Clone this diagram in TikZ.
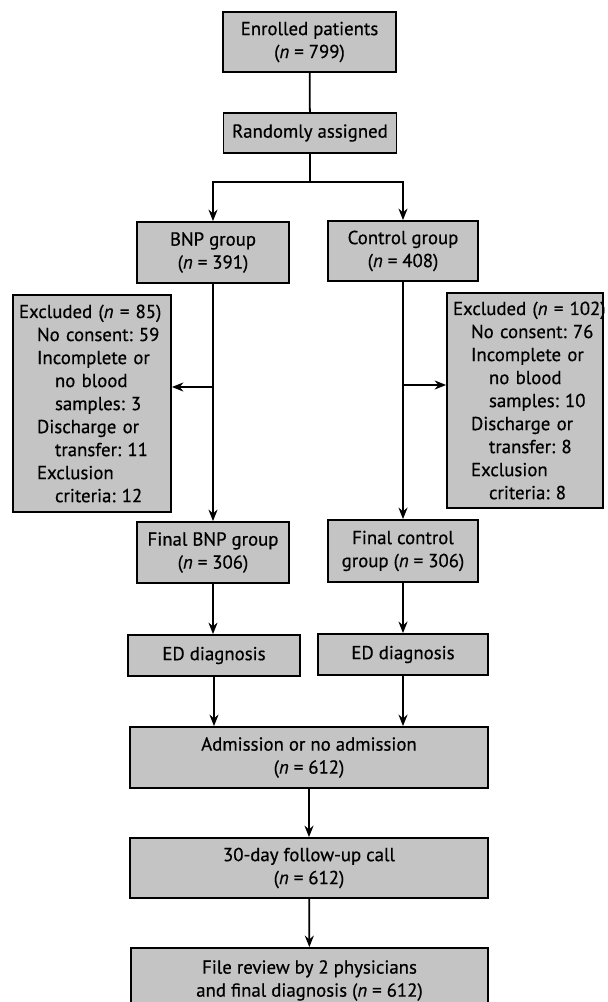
\documentclass[tikz,border=0pt]{standalone}
\usepackage{fontspec}
\setmainfont{PT Sans}[FakeBold=0.6]
\usetikzlibrary{positioning,calc,arrows.meta}
\frenchspacing
\newcommand{\nn}[1]{(\textit{n}~=~#1)}
\newcommand{\ind}{\hspace*{0.36cm}}
\colorlet{colorBOX}{black!23}
\tikzset{
   every path/.style={>={Stealth[length=2.3mm,width=1.8mm]}},
   stage/.style={draw,fill=colorBOX,line width=1pt,align=center,inner sep=1pt,font=\fontsize{10.7}{13.1}\selectfont},
   excl/.style={stage,align=left,inner xsep=0.12cm},
   flow/.style={->,line width=1pt},
   link/.style={-,line width=1pt},
}

\begin{document}
\begin{tikzpicture}
      \clip (0,0) rectangle (12.16,-20.04);
      \node[stage,minimum width=3.46cm,minimum height=1.2cm] (enr) at (6.19,-0.84) {Enrolled patients\\\nn{799}};
      \node[stage,minimum width=3.46cm,minimum height=0.8cm] (rnd) at (6.2,-2.66) {Randomly assigned};
      \node[stage,minimum width=3.04cm,minimum height=1.22cm] (bnp) at (4.26,-5.05) {BNP group\\\nn{391}};
      \node[stage,minimum width=3.0cm,minimum height=1.2cm] (ctl) at (8.06,-5.02) {Control group\\\nn{408}};
      \node[excl,minimum width=3.16cm,minimum height=4.34cm,text width=2.92cm] (exl) at (1.84,-8.07) {Excluded~\nn{85}\\
        \ind No consent: 59\\
        \ind Incomplete or\\
        \ind\ind no blood\\
        \ind\ind samples: 3\\
        \ind Discharge or\\
        \ind\ind transfer: 11\\
        \ind Exclusion\\
        \ind\ind criteria: 12};
      \node[excl,minimum width=3.12cm,minimum height=4.3cm,text width=2.88cm] (exr) at (10.5,-8.01) {Excluded~\nn{102}\\
        \ind No consent: 76\\
        \ind Incomplete or\\
        \ind\ind no blood\\
        \ind\ind samples: 10\\
        \ind Discharge or\\
        \ind\ind transfer: 8\\
        \ind Exclusion\\
        \ind\ind criteria: 8};
      \node[stage,minimum width=3.04cm,minimum height=1.22cm] (fbnp) at (4.26,-11.05) {Final BNP group\\\nn{306}};
      \node[stage,minimum width=3.0cm,minimum height=1.24cm] (fctl) at (8.06,-11.02) {Final control\\group \nn{306}};
      \node[stage,minimum width=3.44cm,minimum height=0.82cm] (edl) at (4.28,-13.11) {ED diagnosis};
      \node[stage,minimum width=3.4cm,minimum height=0.82cm] (edr) at (8.06,-13.09) {ED diagnosis};
      \node[stage,minimum width=7.16cm,minimum height=1.22cm] (adm) at (6.18,-15.15) {Admission or no admission\\\nn{612}};
      \node[stage,minimum width=7.16cm,minimum height=1.2cm] (fup) at (6.18,-17.36) {30-day follow-up call\\\nn{612}};
      \node[stage,minimum width=7.14cm,minimum height=1.3cm] (rev) at (6.19,-19.61) {File review by 2 physicians\\and final diagnosis \nn{612}};
      \coordinate (split) at (6.2,-3.64);
      \coordinate (lsplit) at (4.26,-7.74);
      \coordinate (rsplit) at (8.06,-7.70);
      \draw[link] (enr) -- (rnd);
      \draw[link] (rnd) -- (split);
      \draw[flow] (split) -| (bnp);
      \draw[flow] (split) -| (ctl);
      \draw[flow] (bnp) -- (fbnp);
      \draw[flow] (ctl) -- (fctl);
      \draw[flow] (lsplit) -- (lsplit -| exl.east);
      \draw[flow] (rsplit) -- (rsplit -| exr.west);
      \draw[flow] (fbnp) -- (fbnp |- edl.north);
      \draw[flow] (fctl) -- (fctl |- edr.north);
      \draw[flow] (edl) -- (edl |- adm.north);
      \draw[flow] (edr) -- (edr |- adm.north);
      \draw[flow] (adm) -- (fup);
      \draw[flow] (fup) -- (rev);
    \end{tikzpicture}
\end{document}
